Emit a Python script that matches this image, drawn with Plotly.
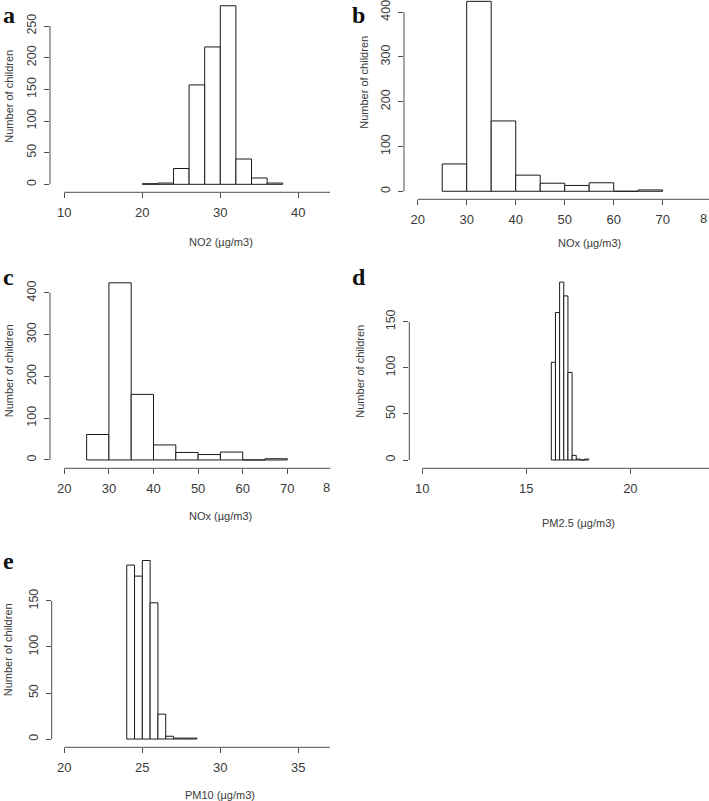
import plotly.graph_objects as go

W, H = 709, 801

# ---------------- data ----------------
no2_edges = [20, 22, 24, 26, 28, 30, 32, 34, 36, 38]
no2_counts = [1, 2, 25, 157, 217, 282, 40, 10, 2]

nox_edges = [25, 30, 35, 40, 45, 50, 55, 60, 65, 70]
nox_counts = [61, 424, 157, 36, 18, 13, 19, 0, 3]

pm25_edges = [16.2, 16.4, 16.6, 16.8, 17.0, 17.2, 17.4, 17.6, 17.8, 18.0]
pm25_counts = [106, 160, 193, 178, 95, 5, 1, 0, 1]

pm10_edges = [24.0, 24.5, 25.0, 25.5, 26.0, 26.5, 27.0, 27.5, 28.0, 28.5]
pm10_counts = [189, 177, 194, 148, 27, 3, 1, 1, 1]

panel_letters = ["a", "b", "c", "d", "e"]
x_titles = ["NO2 (µg/m3)", "NOx (µg/m3)", "NOx (µg/m3)", "PM2.5 (µg/m3)", "PM10 (µg/m3)"]
y_title = "Number of children"

x_ticks_a = [10, 20, 30, 40]
y_ticks_a = [0, 50, 100, 150, 200, 250]
x_ticks_b = [20, 30, 40, 50, 60, 70, 80]
y_ticks_b = [0, 100, 200, 300, 400]
x_ticks_c = [20, 30, 40, 50, 60, 70, 80]
y_ticks_c = [0, 100, 200, 300, 400]
x_ticks_d = [10, 15, 20, 25]
y_ticks_d = [0, 50, 100, 150]
x_ticks_e = [20, 25, 30, 35]
y_ticks_e = [0, 50, 100, 150]

# ---------------- layout geometry (pixels) ----------------
panels = [
    dict(edges=no2_edges, counts=no2_counts, xt=x_ticks_a, yt=y_ticks_a,
         px=(50, 330), py=(0.6, 192.3), xr=(8.17, 44.06), yr=(-12.6, 290.2),
         letter=(1, 0), xtitle=(220.5, 241.7), ytitle=(9, 96.7)),
    dict(edges=nox_edges, counts=nox_counts, xt=x_ticks_b, yt=y_ticks_b,
         px=(404, 709), py=(0, 199.3), xr=(17.2, 79.45), yr=(-17.9, 427),
         letter=(350, 0), xtitle=(589.5, 242.7), ytitle=(363.3, 82.5)),
    dict(edges=nox_edges, counts=nox_counts, xt=x_ticks_c, yt=y_ticks_c,
         px=(50, 330.7), py=(275.7, 468.3), xr=(16.79, 79.73), yr=(-19.9, 441),
         letter=(1, 262), xtitle=(220.3, 515.7), ytitle=(8.5, 370.8)),
    dict(edges=pm25_edges, counts=pm25_counts, xt=x_ticks_d, yt=y_ticks_d,
         px=(409.3, 709), py=(275, 468.3), xr=(9.375, 23.78), yr=(-9.0, 200.7),
         letter=(350, 262), xtitle=(578, 523.3), ytitle=(360, 371.7)),
    dict(edges=pm10_edges, counts=pm10_counts, xt=x_ticks_e, yt=y_ticks_e,
         px=(51.7, 330), py=(553.3, 747.3), xr=(19.19, 37.03), yr=(-9.0, 201.8),
         letter=(1, 546), xtitle=(220.3, 795), ytitle=(8.3, 650)),
]

TXT = "#3a3a3a"
AX = "#4d4d4d"
SANS = "Liberation Sans, Arial, sans-serif"
SERIF = "Liberation Serif, Times New Roman, serif"

fig = go.Figure()
annotations = []
shapes = []

for i, p in enumerate(panels):
    n = i + 1
    xa = "x" if n == 1 else f"x{n}"
    ya = "y" if n == 1 else f"y{n}"
    edges, counts = p["edges"], p["counts"]
    mids = [(edges[k] + edges[k + 1]) / 2 for k in range(len(counts))]
    widths = [edges[k + 1] - edges[k] for k in range(len(counts))]
    fig.add_trace(go.Bar(
        x=mids, y=counts, width=widths, xaxis=xa, yaxis=ya,
        marker=dict(color="white", line=dict(color="#1a1a1a", width=1)),
        showlegend=False, hoverinfo="skip",
    ))

    xdom = [max(0, p["px"][0] / W), min(1, p["px"][1] / W)]
    ydom = [max(0, 1 - p["py"][1] / H), min(1, 1 - p["py"][0] / H)]
    xkey = "xaxis" if n == 1 else f"xaxis{n}"
    ykey = "yaxis" if n == 1 else f"yaxis{n}"
    xin = [t for t in p["xt"] if p["xr"][0] <= t <= p["xr"][1]]
    fig.update_layout(**{
        xkey: dict(domain=xdom, range=list(p["xr"]), anchor=ya,
                   tickmode="array", tickvals=p["xt"], ticktext=[str(t) for t in p["xt"]],
                   ticks="outside", ticklen=5, tickwidth=1, tickcolor=AX,
                   showgrid=False, zeroline=False, showline=False,
                   ticklabelstandoff=3, ticklabeloverflow="allow",
                   tickfont=dict(family=SANS, size=13, color=TXT)),
        ykey: dict(domain=ydom, range=list(p["yr"]), anchor=xa,
                   tickmode="array", tickvals=p["yt"], ticktext=[str(t) for t in p["yt"]],
                   ticks="outside", ticklen=5, tickwidth=1, tickcolor=AX,
                   showgrid=False, zeroline=False, showline=False,
                   tickangle=-90, ticklabelstandoff=3, ticklabeloverflow="allow",
                   tickfont=dict(family=SANS, size=12.5, color=TXT)),
    })

    # R-style axis lines: from the first tick to the last tick / panel edge
    shapes.append(dict(type="line", xref=xa, yref=f"{ya} domain",
                       x0=min(xin), x1=p["xr"][1], y0=0, y1=0,
                       line=dict(color=AX, width=1)))
    shapes.append(dict(type="line", xref=f"{xa} domain", yref=ya,
                       x0=0, x1=0, y0=min(p["yt"]), y1=max(p["yt"]),
                       line=dict(color=AX, width=1)))

    # tick label that falls just beyond the cropped edge: only its first digit shows
    for t in p["xt"]:
        if p["xr"][1] < t:
            tpx = p["px"][0] + (t - p["xr"][0]) / (p["xr"][1] - p["xr"][0]) * (p["px"][1] - p["px"][0])
            if tpx < W + 10:
                annotations.append(dict(xref="paper", yref="paper", x=min(tpx, W - 0.5) / W,
                                        y=1 - (p["py"][1] + 19) / H, text=str(t)[0],
                                        xanchor="right", yanchor="middle", showarrow=False,
                                        font=dict(family=SANS, size=13, color=TXT)))

    # axis titles
    annotations.append(dict(xref="paper", yref="paper",
                            x=p["xtitle"][0] / W, y=1 - p["xtitle"][1] / H,
                            text=x_titles[i], showarrow=False,
                            xanchor="center", yanchor="middle",
                            font=dict(family=SANS, size=11, color=TXT)))
    annotations.append(dict(xref="paper", yref="paper",
                            x=p["ytitle"][0] / W, y=1 - p["ytitle"][1] / H,
                            text=y_title, showarrow=False, textangle=-90,
                            xanchor="center", yanchor="middle",
                            font=dict(family=SANS, size=11, color=TXT)))
    # panel letter (box top at given pixel row)
    annotations.append(dict(xref="paper", yref="paper",
                            x=p["letter"][0] / W, y=1 - p["letter"][1] / H,
                            text=f"<b>{panel_letters[i]}</b>", showarrow=False,
                            xanchor="left", yanchor="top",
                            font=dict(family=SERIF, size=24, color="#111111")))

fig.update_layout(
    width=W, height=H, autosize=False,
    margin=dict(l=0, r=0, t=0, b=0, pad=0),
    paper_bgcolor="white", plot_bgcolor="white",
    annotations=annotations, shapes=shapes,
    showlegend=False, barmode="overlay",
)

fig.write_html("out.html", config={"displayModeBar": False},
               post_script="document.body.style.margin='0';document.body.style.overflow='hidden';")
